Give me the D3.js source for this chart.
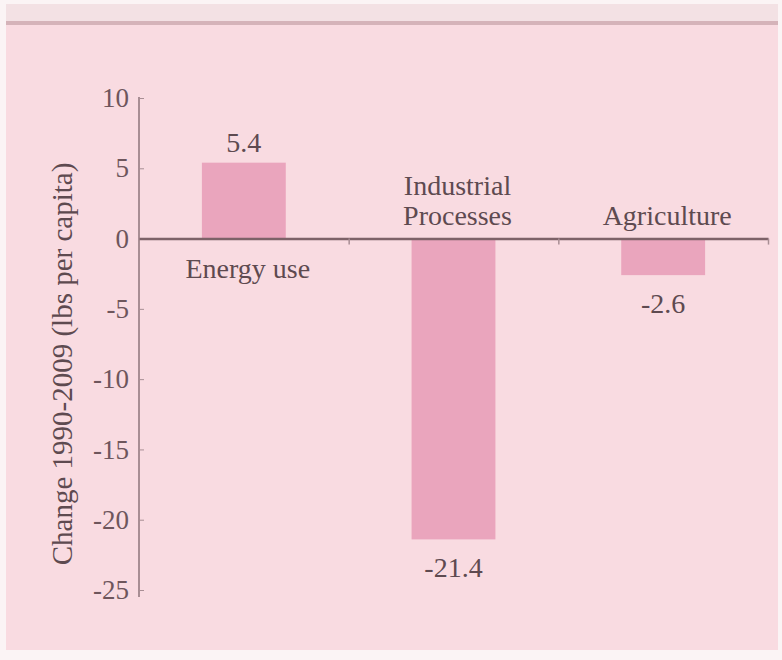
<!DOCTYPE html>
<html>
<head>
<meta charset="utf-8">
<script src="https://cdn.jsdelivr.net/npm/d3@7/dist/d3.min.js"></script>
<style>
  body { margin: 0; background: #fbf4f5; }
  svg { display: block; }
</style>
</head>
<body>
<svg width="782" height="660"></svg>
<script>
// data
var categories = ["Energy use", "Industrial Processes", "Agriculture"];
var values = [5.4, -21.4, -2.6];
var valueLabels = ["5.4", "-21.4", "-2.6"];
var yTicks = [10, 5, 0, -5, -10, -15, -20, -25];
var yTitle = "Change 1990-2009 (lbs per capita)";

var FONT = "'Liberation Serif', 'DejaVu Serif', serif";
var INK = "#5e4a50";

function main() {
  var svg = d3.select("svg");

  // frame: light strip on top, darker rule, pink panel
  svg.append("rect").attr("x", 6).attr("y", 4).attr("width", 772).attr("height", 18).attr("fill", "#f3e1e4");
  svg.append("rect").attr("x", 6).attr("y", 21).attr("width", 772).attr("height", 4).attr("fill", "#d5b3b9");
  svg.append("rect").attr("x", 6).attr("y", 25).attr("width", 772).attr("height", 625).attr("fill", "#f9dbe1");

  var left = 139, right = 768;

  var yScale = d3.scaleLinear().domain([10, -25]).range([98, 590]);
  var xBand = d3.scaleBand().domain(categories).range([left, right]).padding(0);
  var xIdx = d3.scaleLinear().domain([0, categories.length]).range([left, right]);

  var g = svg.append("g");

  // bars
  var barW = xBand.bandwidth() * 0.4;
  g.selectAll(".bar")
    .data(categories)
    .enter()
    .append("rect")
    .attr("class", "bar")
    .attr("x", function (d) { return xBand(d) + xBand.bandwidth() / 2 - barW / 2; })
    .attr("y", function (d, i) { return yScale(Math.max(0, values[i])); })
    .attr("width", barW)
    .attr("height", function (d, i) { return Math.abs(yScale(values[i]) - yScale(0)); })
    .attr("fill", "#eaa5bd");

  // y axis
  var yAxis = g.append("g")
    .attr("transform", "translate(" + left + ",0)")
    .call(d3.axisLeft(yScale).tickValues(yTicks)
      .tickFormat(function (d) { return String(d); })
      .tickSizeInner(-5).tickSizeOuter(0).tickPadding(10));
  yAxis.select(".domain").attr("stroke", "#a88e94").attr("stroke-width", 2)
    .attr("d", "M0," + (yScale(10) - 1) + "V" + (yScale(-25) + 7));
  yAxis.selectAll(".tick line").attr("stroke", "#a88e94");
  yAxis.selectAll("text")
    .style("font-family", FONT)
    .style("font-size", "27px")
    .attr("fill", "#6e565c");

  // x axis at zero with ticks on category boundaries
  var xAxis = g.append("g")
    .attr("transform", "translate(0," + yScale(0) + ")")
    .call(d3.axisBottom(xIdx).tickValues([1, 2, 3]).tickFormat("").tickSizeInner(6).tickSizeOuter(0));
  xAxis.select(".domain").attr("stroke", "#7d6268").attr("stroke-width", 2.5);
  xAxis.selectAll(".tick line").attr("stroke", "#a88e94").attr("stroke-width", 1.5);

  // value labels
  g.selectAll(".val")
    .data(categories)
    .enter()
    .append("text")
    .attr("class", "val")
    .attr("text-anchor", "middle")
    .attr("x", function (d) { return xBand(d) + xBand.bandwidth() / 2; })
    .attr("y", function (d, i) {
      return values[i] >= 0 ? yScale(values[i]) - 11 : yScale(values[i]) + 38;
    })
    .style("font-family", FONT)
    .style("font-size", "28px")
    .attr("fill", INK)
    .text(function (d, i) { return valueLabels[i]; });

  // category labels: below the axis for gains, above for losses
  var lineGap = 30;
  var catLabels = g.selectAll(".cat")
    .data(categories)
    .enter()
    .append("text")
    .attr("class", "cat")
    .attr("text-anchor", "middle")
    .style("font-family", FONT)
    .style("font-size", "28px")
    .attr("fill", INK)
    .attr("x", function (d) { return xBand(d) + xBand.bandwidth() / 2 + 4; })
    .attr("y", function (d, i) {
      var lines = d.split(" ").length;
      if (values[i] >= 0) return yScale(0) + 39;
      return yScale(0) - 14 - (lines - 1) * lineGap;
    });
  catLabels.each(function (d, i) {
    var t = d3.select(this);
    if (values[i] >= 0 || d.indexOf(" ") < 0) { t.text(d); return; }
    var x = t.attr("x");
    d.split(" ").forEach(function (w, k) {
      t.append("tspan").attr("x", x).attr("dy", k === 0 ? 0 : lineGap).text(w);
    });
  });

  // y axis title
  svg.append("text")
    .attr("transform", "translate(72," + 364 + ") rotate(-90)")
    .attr("text-anchor", "middle")
    .style("font-family", FONT)
    .style("font-size", "29px")
    .attr("fill", INK)
    .text(yTitle);
}
main();
</script>
</body>
</html>
